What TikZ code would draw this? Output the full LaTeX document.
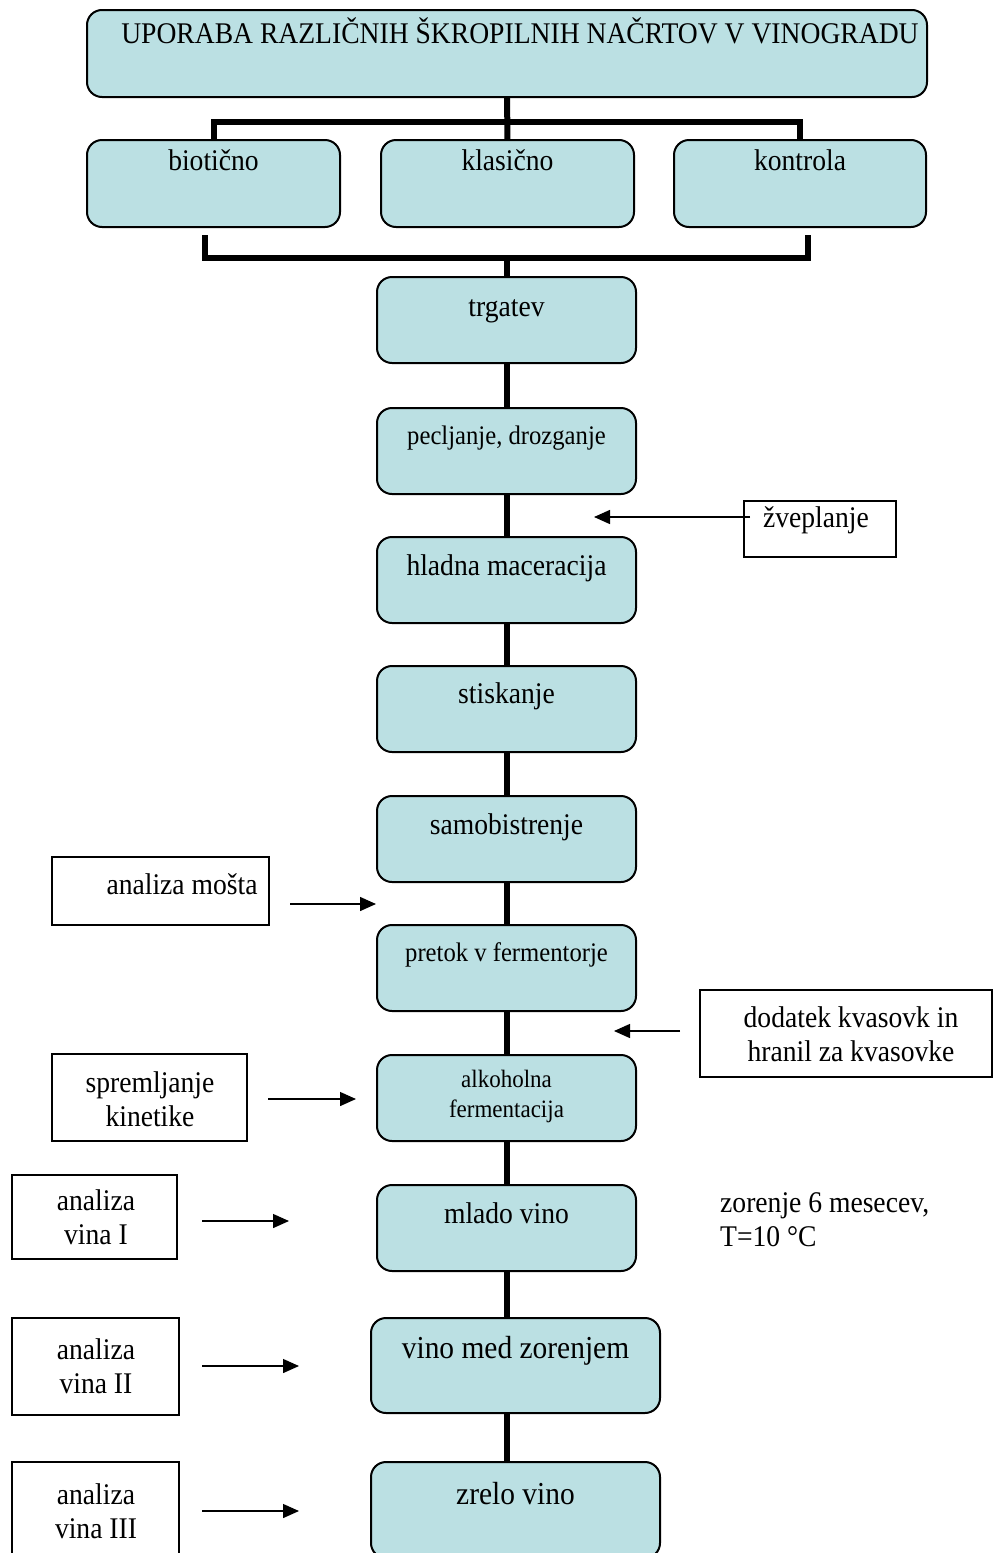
\documentclass[tikz,border=0pt]{standalone}
\usepackage{fontspec}
\setmainfont{Liberation Serif}[FakeStretch=0.92]
\usetikzlibrary{arrows.meta}
\definecolor{boxblue}{RGB}{187,224,227}
\newcommand{\mainf}{\fontsize{30}{34}\selectfont}
\newcommand{\smallf}{\fontsize{26.8}{31}\selectfont}
\newcommand{\tinyf}{\fontsize{25}{30}\selectfont}
\newcommand{\bigf}{\fontsize{32}{36}\selectfont}
\begin{document}
\begin{tikzpicture}[x=1pt,y=-1pt,
  proc/.style={draw, line width=2pt, fill=boxblue, rounded corners=15pt, inner sep=0pt},
  colbox/.style={proc, minimum width=259pt, minimum height=86pt},
  side/.style={draw, line width=1.5pt, fill=white, inner sep=0pt},
  txt/.style={anchor=base, inner sep=0pt, font=\mainf},
  mtxt/.style={anchor=center, inner sep=0pt, align=center, font=\mainf},
  conn/.style={line width=6pt},
  arr/.style={line width=1.4pt, -{Triangle[length=16pt,width=14pt]}}]
\useasboundingbox (0,0) rectangle (993,1553);
\clip (0,0) rectangle (993,1553);

% title and variants
\node[proc, minimum width=840pt, minimum height=87pt] (title) at (507,53.5) {};
\node[txt] (titlet) at ([xshift=13pt,yshift=-34pt]title.north) {UPORABA RAZLIČNIH ŠKROPILNIH NAČRTOV V VINOGRADU};
\node[proc, minimum width=253pt, minimum height=87pt] (c1) at (213.5,183.5) {};
\node[proc, minimum width=253pt, minimum height=87pt] (c2) at (507.5,183.5) {};
\node[proc, minimum width=252pt, minimum height=87pt] (c3) at (800,183.5) {};
\node[txt] (c1t) at ([yshift=-31.5pt]c1.north) {biotično};
\node[txt] (c2t) at ([yshift=-31.5pt]c2.north) {klasično};
\node[txt] (c3t) at ([yshift=-31.5pt]c3.north) {kontrola};

% process column
\node[colbox] (b1) at (506.5,320) {};
\node[colbox] (b2) at (506.5,451) {};
\node[colbox] (b3) at (506.5,580) {};
\node[colbox] (b4) at (506.5,709) {};
\node[colbox] (b5) at (506.5,839) {};
\node[colbox] (b6) at (506.5,968) {};
\node[colbox] (b7) at (506.5,1098) {};
\node[colbox] (b8) at (506.5,1228) {};
\node[proc, minimum width=289pt, minimum height=95pt] (b9) at (515.5,1365.5) {};
\node[proc, minimum width=289pt, minimum height=96pt] (b10) at (515.5,1510) {};

\node[txt] (b1t) at ([yshift=-40pt]b1.north) {trgatev};
\node[txt, font=\smallf] (b2t) at ([yshift=-37pt]b2.north) {pecljanje, drozganje};
\node[txt] (b3t) at ([yshift=-39pt]b3.north) {hladna maceracija};
\node[txt] (b4t) at ([yshift=-38pt]b4.north) {stiskanje};
\node[txt] (b5t) at ([yshift=-39pt]b5.north) {samobistrenje};
\node[txt, font=\smallf] (b6t) at ([yshift=-37pt]b6.north) {pretok v fermentorje};
\node[mtxt, font=\tinyf] (b7t) at ([yshift=-42pt]b7.north) {alkoholna\\fermentacija};
\node[txt] (b8t) at ([yshift=-39pt]b8.north) {mlado vino};
\node[txt, font=\bigf] (b9t) at ([yshift=-41pt]b9.north) {vino med zorenjem};
\node[txt, font=\bigf] (b10t) at ([yshift=-43pt]b10.north) {zrelo vino};

% side boxes
\node[side, minimum width=152pt, minimum height=56pt] (s1) at (820,529) {};
\node[txt] (s1t) at (816,527) {žveplanje};
\node[side, minimum width=217pt, minimum height=68pt] (s2) at (160.5,891) {};
\node[txt] (s2t) at (182,894) {analiza mošta};
\node[side, minimum width=292pt, minimum height=87pt] (s3) at (846,1033.5) {};
\node[mtxt] (s3t) at (851,1034) {dodatek kvasovk in\\hranil za kvasovke};
\node[side, minimum width=195pt, minimum height=87pt] (s4) at (149.5,1097.5) {};
\node[mtxt] (s4t) at (150,1099) {spremljanje\\kinetike};
\node[side, minimum width=165pt, minimum height=84pt] (s5) at (94.5,1217) {};
\node[mtxt] (s5t) at (96,1217) {analiza\\vina I};
\node[side, minimum width=167pt, minimum height=97pt] (s6) at (95.5,1366.5) {};
\node[mtxt] (s6t) at (96,1366) {analiza\\vina II};
\node[side, minimum width=167pt, minimum height=100pt] (s7) at (95.5,1512) {};
\node[mtxt] (s7t) at (96,1511) {analiza\\vina III};
\node[anchor=west, inner sep=0pt, align=left, font=\mainf] (zor) at (720,1219.5) {zorenje 6 mesecev,\\T=10 °C};

% tree connectors
\coordinate (tj) at (507.5,122);
\draw[conn] (title) -- (c2);
\draw[conn] (c1) |- (tj) -| (c3);
\coordinate (bl) at (205,235);
\coordinate (br) at (808,235);
\coordinate (bm) at (506.5,258);
\draw[conn] (bl) -- (bl |- bm) -- (br |- bm) -- (br);
\draw[conn] (bm) -- (b1);
\draw[conn] (b1) -- (b2);
\draw[conn] (b2) -- (b3);
\draw[conn] (b3) -- (b4);
\draw[conn] (b4) -- (b5);
\draw[conn] (b5) -- (b6);
\draw[conn] (b6) -- (b7);
\draw[conn] (b7) -- (b8);
\draw[conn] (b8.south) -- (b8.south |- b9.north);
\draw[conn] (b9.south -| b8.south) -- (b10.north -| b8.south);

% side arrows
\coordinate (a1s) at (750,517); \coordinate (a1e) at (594,517);
\coordinate (a2s) at (290,904); \coordinate (a2e) at (376,904);
\coordinate (a3s) at (680,1031); \coordinate (a3e) at (614,1031);
\coordinate (a4s) at (268,1099); \coordinate (a4e) at (356,1099);
\coordinate (a5s) at (202,1221); \coordinate (a5e) at (289,1221);
\coordinate (a6s) at (202,1366); \coordinate (a6e) at (299,1366);
\coordinate (a7s) at (202,1511); \coordinate (a7e) at (299,1511);
\draw[arr] (a1s) -- (a1e);
\draw[arr] (a2s) -- (a2e);
\draw[arr] (a3s) -- (a3e);
\draw[arr] (a4s) -- (a4e);
\draw[arr] (a5s) -- (a5e);
\draw[arr] (a6s) -- (a6e);
\draw[arr] (a7s) -- (a7e);
\end{tikzpicture}
\end{document}
